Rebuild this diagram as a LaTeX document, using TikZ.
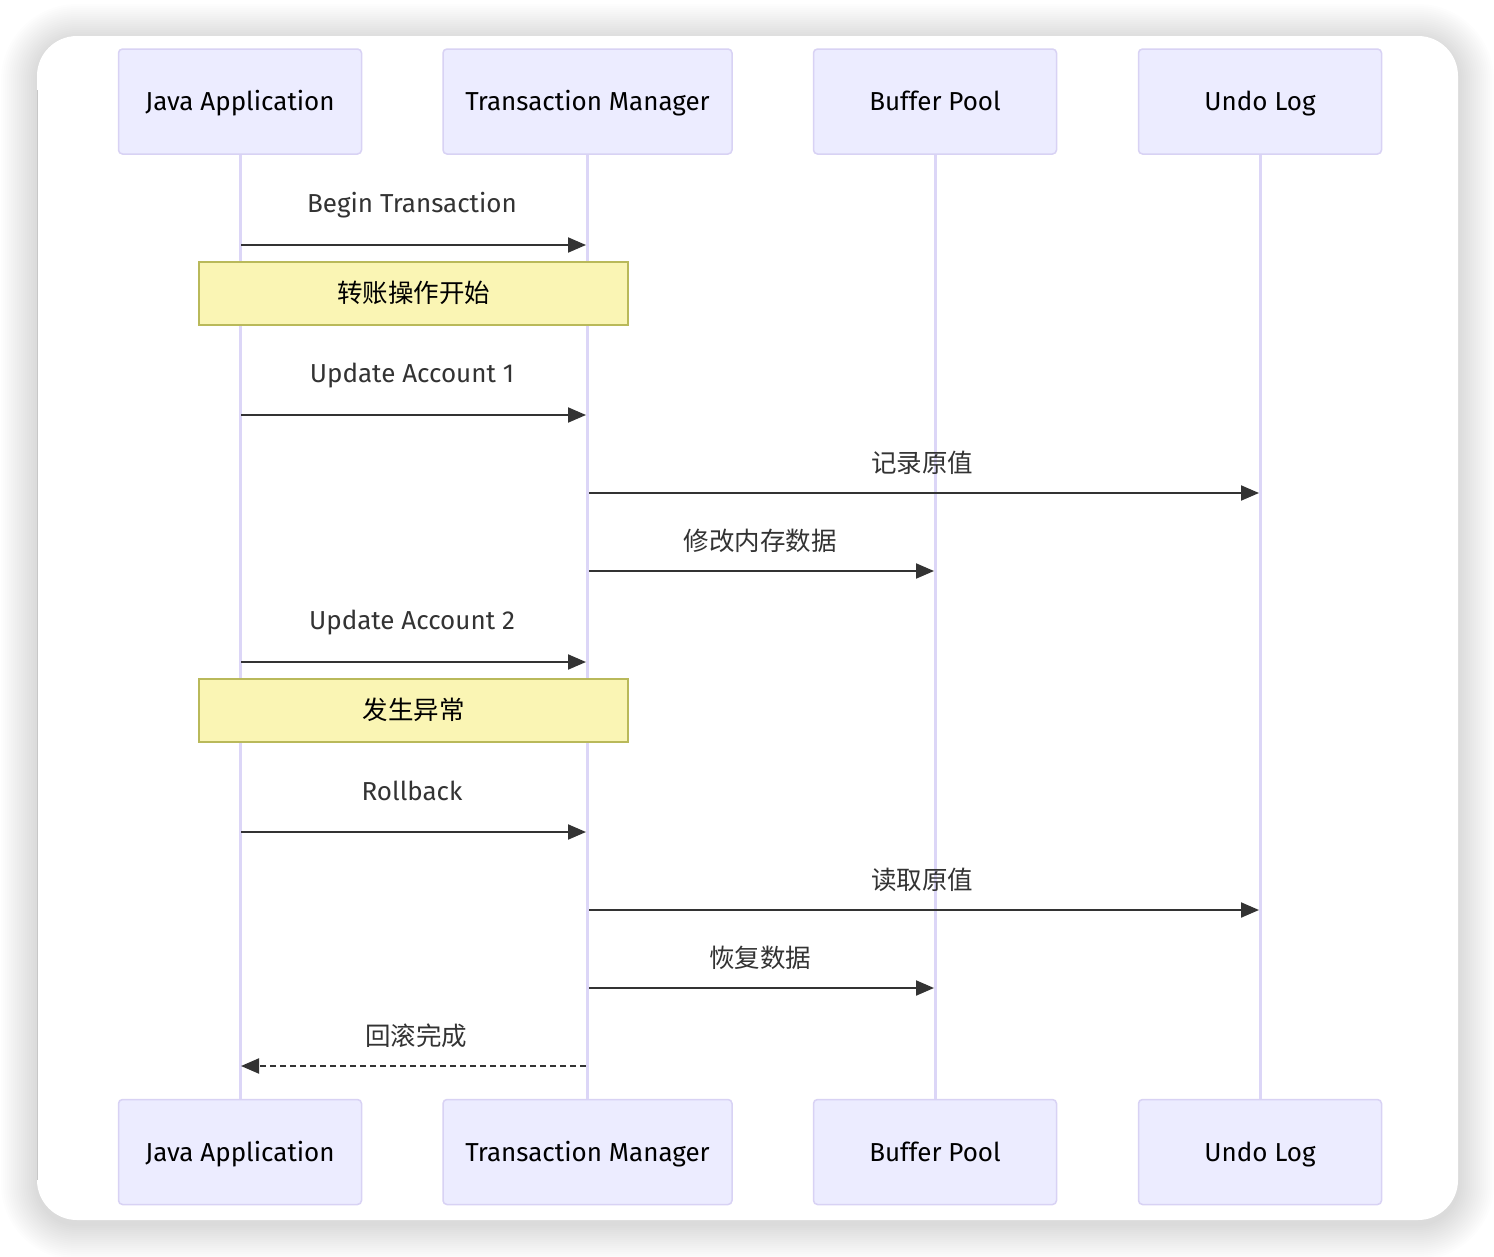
\documentclass[tikz,border=0pt]{standalone}
\usepackage{fontspec}
\setmainfont{Fira Sans}
\newfontfamily\cjk{Noto Sans CJK SC}
\usepackage{tikz}
\usetikzlibrary{arrows.meta,positioning}
\usepackage{xcolor}
\definecolor{actorfill}{HTML}{ECECFF}
\definecolor{actorline}{HTML}{D8D2F4}
\definecolor{lifecol}{HTML}{DCD6F7}
\definecolor{notefill}{HTML}{FAF5B4}
\definecolor{noteline}{HTML}{B9B95A}
\definecolor{msgcol}{HTML}{333333}
\tikzstyle{actor} = [rectangle, rounded corners=4pt, minimum width=243pt, minimum height=105pt, text centered, draw=actorline, fill=actorfill, line width=1.5pt, font=\fontsize{26}{30}\selectfont, text height=18pt, text depth=0pt]
\tikzstyle{lifeline} = [line width=3pt, color=lifecol]
\tikzstyle{msg} = [line width=2pt, color=msgcol, -{Triangle[length=18pt,width=15pt]}]
\tikzstyle{reply} = [msg, dash pattern=on 6pt off 4pt]
\tikzstyle{msglabel} = [text=msgcol, font=\fontsize{26}{30}\selectfont, text height=18pt, text depth=0pt]
\tikzstyle{cjklabel} = [msglabel, font=\fontsize{25.5}{30}\selectfont\cjk]
\tikzstyle{note} = [rectangle, minimum width=429pt, minimum height=63pt, draw=noteline, fill=notefill, line width=1.5pt, font=\fontsize{25.5}{30}\selectfont\cjk, text height=18pt, text depth=0pt]

\begin{document}
\begin{tikzpicture}[x=1pt, y=-1pt]
\useasboundingbox (0,0) rectangle (1494,1256);
\fill[white] (0,0) rectangle (1494,1256);
% Card with soft shadow
\foreach \r in {2,4,...,36}
  \fill[black, opacity=0.008, rounded corners={40pt+\r pt}] (37-\r,36-\r+4) rectangle (1458+\r,1220+\r+4);
\fill[white, rounded corners=40pt] (37,36) rectangle (1458,1220);
\draw[black!22, line width=1.5pt] (37.5,90) -- (37.5,1180);

% Actors, top and bottom
\node[actor] (ja) at (240,101.5) {Java Application};
\node[actor, minimum width=289pt] (tm) at (587.5,101.5) {Transaction Manager};
\node[actor] (bp) at (935,101.5) {Buffer Pool};
\node[actor] (ul) at (1260,101.5) {Undo Log};
\node[actor] (jab) at (240,1152) {Java Application};
\node[actor, minimum width=289pt] (tmb) at (587.5,1152) {Transaction Manager};
\node[actor] (bpb) at (935,1152) {Buffer Pool};
\node[actor] (ulb) at (1260,1152) {Undo Log};

% Lifelines
\draw[lifeline] (ja) -- (jab);
\draw[lifeline] (tm) -- (tmb);
\draw[lifeline] (bp) -- (bpb);
\draw[lifeline] (ul) -- (ulb);

% Message end points
\coordinate (ja1) at (241,245);   \coordinate (tm1) at (586,245);
\coordinate (ja2) at (241,415);   \coordinate (tm2) at (586,415);
\coordinate (tm3) at (589,493);   \coordinate (ul3) at (1259,493);
\coordinate (tm4) at (589,571);   \coordinate (bp4) at (934,571);
\coordinate (ja5) at (241,662);   \coordinate (tm5) at (586,662);
\coordinate (ja6) at (241,832);   \coordinate (tm6) at (586,832);
\coordinate (tm7) at (589,910);   \coordinate (ul7) at (1259,910);
\coordinate (tm8) at (589,988);   \coordinate (bp8) at (934,988);
\coordinate (tm9) at (586,1066);  \coordinate (ja9) at (241,1066);

% Notes
\node[note] (n1) at (413.5,293.5) {转账操作开始};
\node[note] (n2) at (413.5,710.5) {发生异常};

% Messages
\draw[msg] (ja1) -- (tm1);
\node[msglabel] (l1) at (412,203.5) {Begin Transaction};
\draw[msg] (ja2) -- (tm2);
\node[msglabel] (l2) at (412,373.5) {Update Account 1};
\draw[msg] (tm3) -- (ul3);
\node[cjklabel] (l3) at (922,463) {记录原值};
\draw[msg] (tm4) -- (bp4);
\node[cjklabel] (l4) at (760,541) {修改内存数据};
\draw[msg] (ja5) -- (tm5);
\node[msglabel] (l5) at (412,620.5) {Update Account 2};
\draw[msg] (ja6) -- (tm6);
\node[msglabel] (l6) at (412,791.5) {Rollback};
\draw[msg] (tm7) -- (ul7);
\node[cjklabel] (l7) at (922,880) {读取原值};
\draw[msg] (tm8) -- (bp8);
\node[cjklabel] (l8) at (760,958) {恢复数据};
\draw[reply] (tm9) -- (ja9);
\node[cjklabel] (l9) at (416,1036) {回滚完成};
\end{tikzpicture}
\end{document}
